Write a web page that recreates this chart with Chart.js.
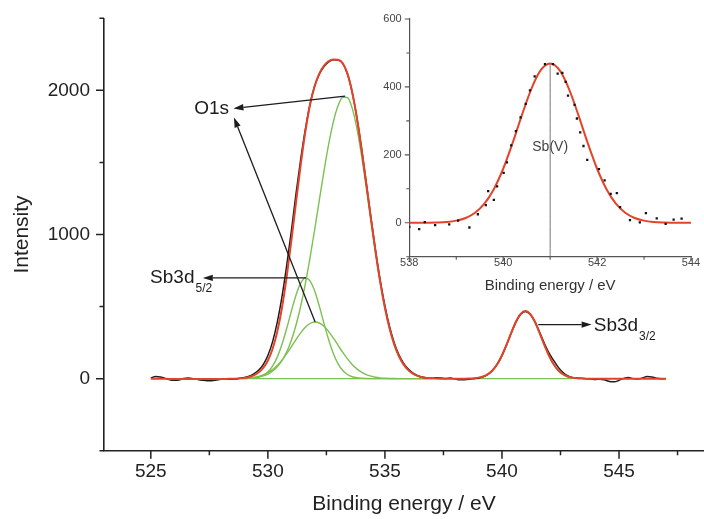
<!DOCTYPE html>
<html>
<head>
<meta charset="utf-8">
<title>XPS O1s / Sb3d</title>
<script src="https://cdn.jsdelivr.net/npm/chart.js@4.4.0/dist/chart.umd.min.js"></script>
<style>
  html, body { margin: 0; padding: 0; background: #fff; }
  #wrap { position: relative; width: 704px; height: 519px; }
  #wrap canvas { position: absolute; left: 0; top: 0; }
</style>
</head>
<body>
<div id="wrap">
  <canvas id="mainChart" width="704" height="519"></canvas>
  <canvas id="insetChart" width="704" height="519"></canvas>
</div>
<script>
// ---- main spectrum (O1s + Sb3d region) ----
const energy = [
  525.0, 525.2, 525.4, 525.6, 525.8, 526.0, 526.2, 526.4, 526.6, 526.8,
  527.0, 527.2, 527.4, 527.6, 527.8, 528.0, 528.2, 528.4, 528.6, 528.8,
  529.0, 529.2, 529.4, 529.6, 529.8, 530.0, 530.2, 530.4, 530.6, 530.8,
  531.0, 531.2, 531.4, 531.6, 531.8, 532.0, 532.2, 532.4, 532.6, 532.8,
  533.0, 533.2, 533.4, 533.6, 533.8, 534.0, 534.2, 534.4, 534.6, 534.8,
  535.0, 535.2, 535.4, 535.6, 535.8, 536.0, 536.2, 536.4, 536.6, 536.8,
  537.0, 537.2, 537.4, 537.6, 537.8, 538.0, 538.2, 538.4, 538.6, 538.8,
  539.0, 539.2, 539.4, 539.6, 539.8, 540.0, 540.2, 540.4, 540.6, 540.8,
  541.0, 541.2, 541.4, 541.6, 541.8, 542.0, 542.2, 542.4, 542.6, 542.8,
  543.0, 543.2, 543.4, 543.6, 543.8, 544.0, 544.2, 544.4, 544.6, 544.8,
  545.0, 545.2, 545.4, 545.6, 545.8, 546.0, 546.2, 546.4, 546.6, 546.8,
  547.0
];
// raw counts (black)
const measured = [
  5, 14, 12, 2, -8, -12, -9, 1, 4, 0,
  -6, -11, -14, -14, -9, -4, -3, -5, -4, 2,
  8, 17, 33, 58, 97, 160, 255, 390, 565, 780,
  1020, 1280, 1520, 1730, 1905, 2030, 2112, 2165, 2198, 2212,
  2210, 2185, 2113, 1988, 1812, 1600, 1362, 1120, 890, 682,
  505, 360, 248, 165, 106, 66, 38, 20, 9, 4,
  2, 6, 4, 1, 4, -3, -8, -7, -4, 0,
  4, 12, 30, 58, 100, 160, 236, 318, 392, 446,
  466, 447, 398, 325, 248, 180, 128, 80, 44, 20,
  8, 4, 2, 0, -2, -6, -4, -10, -20, -22,
  -12, 2, 8, 0, -3, 5, 14, 12, 3, 0,
  0
];
// fitted envelope (red)
const envelope = [
  0, 0, 0, -1, -2, -2, -2, -2, -2, -3,
  -3, -3, -3, -3, -3, -2, -2, -1, 0, 2,
  5, 11, 22, 42, 74, 126, 206, 325, 490, 703,
  952, 1220, 1480, 1712, 1898, 2030, 2118, 2172, 2203, 2214,
  2212, 2188, 2116, 1989, 1812, 1596, 1357, 1113, 880, 670,
  492, 347, 236, 155, 97, 59, 34, 19, 10, 5,
  3, 1, 0, 0, 0, 0, 0, 0, 1, 3,
  7, 15, 31, 58, 101, 162, 237, 320, 396, 449,
  469, 449, 396, 320, 237, 162, 101, 58, 31, 15,
  7, 3, 1, 0, 0, 0, 0, 0, 0, 0,
  0, 0, 0, 0, 0, 0, 0, 0, 0, 0,
  0
];

// fitted components (green)
const fitEnergy = [
  529.0, 529.2, 529.4, 529.6, 529.8, 530.0, 530.2, 530.4, 530.6, 530.8,
  531.0, 531.2, 531.4, 531.6, 531.8, 532.0, 532.2, 532.4, 532.6, 532.8,
  533.0, 533.2, 533.4, 533.6, 533.8, 534.0, 534.2, 534.4, 534.6, 534.8,
  535.0, 535.2, 535.4, 535.6, 535.8, 536.0, 536.2, 536.4, 536.6, 536.8,
  537.0
];
const o1sMain = [
  1.8, 3.4, 6.2, 11.1, 19.1, 31.9, 51.8, 81.5, 124.6, 184.5,
  265.3, 370.0, 500.6, 657.4, 837.1, 1034.7, 1240.5, 1443.0, 1628.6, 1783.2,
  1894.5, 1952.6, 1950.6, 1877.1, 1738.1, 1548.8, 1328.1, 1095.8, 870.0, 664.6,
  488.8, 345.7, 235.4, 154.2, 97.2, 59.0, 34.4, 19.3, 10.5, 5.4,
  2.7
];
const o1sMinor = [
  2.5, 4.8, 8.8, 15.3, 25.6, 41.0, 62.7, 91.8, 128.6, 172.3,
  220.8, 270.8, 317.6, 356.4, 382.6, 393.0, 386.0, 362.8, 326.2, 280.5,
  230.9, 181.7, 136.8, 98.6, 67.9, 44.8, 28.3, 17.0, 9.8, 5.4,
  2.9, 1.4, 0.7, 0.3, 0.1, 0, 0, 0, 0, 0,
  0
];
const sb3d52 = [
  0.6, 1.7, 4.4, 10.4, 22.9, 46.5, 86.8, 149.3, 236.8, 346.0,
  466.2, 578.8, 662.2, 698.4, 678.7, 607.8, 501.7, 381.6, 267.6, 172.9,
  103.0, 56.5, 28.6, 13.3, 5.7, 2.3, 0.8, 0.2, 0, 0,
  0, 0, 0, 0, 0, 0, 0, 0, 0, 0,
  0
];
const sbEnergy = [
  539.0, 539.2, 539.4, 539.6, 539.8, 540.0, 540.2, 540.4, 540.6, 540.8,
  541.0, 541.2, 541.4, 541.6, 541.8, 542.0, 542.2, 542.4, 542.6, 542.8,
  543.0
];
const sb3d32 = [
  6.6, 14.9, 30.7, 58.1, 101.1, 161.6, 237.1, 319.6, 395.5, 449.4,
  469, 449.4, 395.5, 319.6, 237.1, 161.6, 101.1, 58.1, 30.7, 14.9,
  6.6
];
const baselineEnergy = [528.8, 543.0];
const baseline = [0, 0];

const mainXTicks = [525, 527.5, 530, 532.5, 535, 537.5, 540, 542.5, 545, 547.5];
const mainYTicks = [-500, 0, 500, 1000, 1500, 2000, 2500];

// ---- inset: Sb3d3/2 detail ----
const insetEnergy = [
  538.0, 538.2, 538.4, 538.6, 538.8, 539.0, 539.2, 539.4, 539.6, 539.8,
  540.0, 540.2, 540.4, 540.6, 540.8, 541.0, 541.2, 541.4, 541.6, 541.8,
  542.0, 542.2, 542.4, 542.6, 542.8, 543.0, 543.2, 543.4, 543.6, 543.8,
  544.0
];
const insetFit = [
  0, 0.1, 0.3, 0.9, 2.5, 6.2, 14.1, 29.5, 56.3, 98.9,
  159.0, 234.7, 317.8, 394.5, 449.2, 469, 449.2, 394.5, 317.8, 234.7,
  159.0, 98.9, 56.3, 29.5, 14.1, 6.2, 2.5, 0.9, 0.3, 0.1,
  0
];
const insetPointEnergy = [
  538.0, 538.21, 538.33, 538.55, 538.85, 539.04, 539.28, 539.46, 539.63, 539.68,
  539.8, 539.87, 540.01, 540.08, 540.17, 540.27, 540.37, 540.48, 540.57, 540.67,
  540.89, 541.06, 541.16, 541.26, 541.33, 541.38, 541.52, 541.57, 541.64, 541.71,
  541.79, 542.04, 542.16, 542.29, 542.42, 542.49, 542.7, 542.91, 543.04, 543.27,
  543.46, 543.63, 543.8
];
const insetPointCounts = [
  -12, -19, 2, -7, -5, 6, -14, 25, 52, 93,
  67, 107, 147, 178, 228, 270, 310, 350, 390, 431,
  467, 467, 439, 441, 415, 374, 347, 307, 266, 226,
  185, 158, 125, 85, 87, 46, 8, 1, 28, 13,
  -3, 9, 12
];
const sbVLine = [541.0, 541.0];
const sbVLineCounts = [-100, 469];
const insetXTicks = [538, 539, 540, 541, 542, 543, 544];
const insetYTicks = [-100, 0, 100, 200, 300, 400, 500, 600];

// annotation anchors (data coordinates)
const arrows = [
  { from: [533.3, 1960], to: [528.53, 1875] },
  { from: [532.02, 393], to: [528.55, 1812] },
  { from: [531.63, 699], to: [527.22, 699] },
  { from: [541.55, 375], to: [543.83, 375] }
];
const notes = [
  { text: 'O1s', at: [526.85, 1875] },
  { text: 'Sb3d', sub: '5/2', at: [524.97, 697] },
  { text: 'Sb3d', sub: '3/2', at: [543.92, 370] }
];

const FONT = '"Liberation Sans", Arial, Helvetica, sans-serif';
Chart.defaults.font.family = FONT;

const RED = '#e4432b';
const BLACK = '#1c1c1c';
const GREEN = '#7cc150';

function pairs(xs, ys) {
  return xs.map((x, i) => ({ x: x, y: ys[i] }));
}

function lineSet(label, xs, ys, color, width) {
  return {
    label: label,
    data: pairs(xs, ys),
    showLine: true,
    borderColor: color,
    borderWidth: width,
    pointRadius: 0,
    fill: false,
    cubicInterpolationMode: 'monotone'
  };
}

// the axes own the layout exactly, so drop the label overhang padding
function fixWidth(w) {
  return s => {
    s.width = w;
    s.paddingTop = 0; s.paddingBottom = 0; s.paddingLeft = 0; s.paddingRight = 0;
  };
}
function fixHeight(h) {
  return s => {
    s.height = h;
    s.paddingTop = 0; s.paddingBottom = 0; s.paddingLeft = 0; s.paddingRight = 0;
  };
}

function tickMarks(id, spec) {
  return {
    id: id,
    afterDraw(chart) {
      const ctx = chart.ctx;
      const xs = chart.scales.x, ys = chart.scales.y;
      const area = chart.chartArea;
      ctx.save();
      ctx.strokeStyle = spec.color;
      ctx.lineWidth = spec.width;
      ctx.beginPath();
      xs.ticks.forEach(t => {
        const px = xs.getPixelForValue(t.value);
        const len = spec.majorX(t.value) ? spec.major : spec.minor;
        ctx.moveTo(px, area.bottom);
        ctx.lineTo(px, area.bottom + len);
      });
      ys.ticks.forEach(t => {
        const py = ys.getPixelForValue(t.value);
        const len = spec.majorY(t.value) ? spec.major : spec.minor;
        ctx.moveTo(area.left, py);
        ctx.lineTo(area.left - len, py);
      });
      ctx.stroke();
      ctx.restore();
    }
  };
}

const mainNotes = {
  id: 'mainNotes',
  afterDraw(chart) {
    const ctx = chart.ctx, xs = chart.scales.x, ys = chart.scales.y;
    const px = p => [xs.getPixelForValue(p[0]), ys.getPixelForValue(p[1])];
    ctx.save();
    ctx.strokeStyle = BLACK;
    ctx.fillStyle = BLACK;
    ctx.lineWidth = 1.3;
    arrows.forEach(a => {
      const [x0, y0] = px(a.from);
      const [x1, y1] = px(a.to);
      const ang = Math.atan2(y1 - y0, x1 - x0);
      const head = 10, half = 3.2;
      const bx = x1 - head * Math.cos(ang), by = y1 - head * Math.sin(ang);
      ctx.beginPath();
      ctx.moveTo(x0, y0);
      ctx.lineTo(bx, by);
      ctx.stroke();
      ctx.beginPath();
      ctx.moveTo(x1, y1);
      ctx.lineTo(bx + half * Math.sin(ang), by - half * Math.cos(ang));
      ctx.lineTo(bx - half * Math.sin(ang), by + half * Math.cos(ang));
      ctx.closePath();
      ctx.fill();
    });
    ctx.textBaseline = 'middle';
    ctx.textAlign = 'left';
    notes.forEach(n => {
      const [x, y] = px(n.at);
      ctx.font = '19px ' + FONT;
      ctx.fillText(n.text, x, y);
      if (n.sub) {
        const w = ctx.measureText(n.text).width;
        ctx.font = '12px ' + FONT;
        ctx.fillText(n.sub, x + w + 1, y + 11);
      }
    });
    ctx.restore();
  }
};

const insetNotes = {
  id: 'insetNotes',
  afterDraw(chart) {
    const ctx = chart.ctx;
    const x = chart.scales.x.getPixelForValue(541.0);
    const y = chart.scales.y.getPixelForValue(224);
    ctx.save();
    ctx.font = '14px ' + FONT;
    ctx.fillStyle = '#444';
    ctx.textAlign = 'center';
    ctx.textBaseline = 'middle';
    ctx.fillText('Sb(V)', x, y);
    ctx.restore();
  }
};

new Chart(document.getElementById('mainChart'), {
  type: 'scatter',
  data: {
    datasets: [
      lineSet('Fit', energy, envelope, RED, 2),
      lineSet('Measured', energy, measured, BLACK, 1.5),
      lineSet('O1s', fitEnergy, o1sMain, GREEN, 1.4),
      lineSet('O1s (2)', fitEnergy, o1sMinor, GREEN, 1.4),
      lineSet('Sb3d5/2', fitEnergy, sb3d52, GREEN, 1.4),
      lineSet('Sb3d3/2', sbEnergy, sb3d32, GREEN, 1.4),
      lineSet('Baseline', baselineEnergy, baseline, GREEN, 1.4)
    ]
  },
  options: {
    responsive: false,
    animation: false,
    devicePixelRatio: 1,
    layout: { padding: { top: 18.3, right: 0, bottom: 0, left: 0 } },
    plugins: { legend: { display: false }, tooltip: { enabled: false } },
    scales: {
      x: {
        type: 'linear',
        min: 523,
        max: 548.63,
        afterBuildTicks: s => { s.ticks = mainXTicks.map(v => ({ value: v })); },
        afterFit: fixHeight(68.3),
        grid: { display: false, drawTicks: false },
        border: { display: true, color: '#222', width: 1.6 },
        ticks: {
          padding: 10, color: '#222', autoSkip: false, maxRotation: 0,
          font: { size: 19 },
          callback: v => (v % 5 === 0 ? String(v) : '')
        },
        title: {
          display: true, text: 'Binding energy / eV', color: '#222',
          font: { size: 21 }, padding: { top: 0, bottom: 2 }
        }
      },
      y: {
        type: 'linear',
        min: -500,
        max: 2500,
        afterBuildTicks: s => { s.ticks = mainYTicks.map(v => ({ value: v })); },
        afterFit: fixWidth(104),
        grid: { display: false, drawTicks: false },
        border: { display: true, color: '#222', width: 1.6 },
        ticks: {
          padding: 14, color: '#222', autoSkip: false,
          font: { size: 19 },
          callback: v => (v % 1000 === 0 ? String(v) : '')
        },
        title: {
          display: true, text: 'Intensity', color: '#222',
          font: { size: 21 }, padding: { top: 10, bottom: 0 }
        }
      }
    }
  },
  plugins: [
    tickMarks('mainTicks', {
      color: '#222', width: 1.5, major: 8, minor: 4.5,
      majorX: v => v % 5 === 0, majorY: v => v % 1000 === 0
    }),
    mainNotes
  ]
});

new Chart(document.getElementById('insetChart'), {
  type: 'scatter',
  data: {
    datasets: [
      {
        label: 'Data',
        data: pairs(insetPointEnergy, insetPointCounts),
        pointStyle: 'rect',
        pointRadius: 1.6,
        pointBorderWidth: 0,
        backgroundColor: '#111',
        borderColor: '#111',
        showLine: false
      },
      lineSet('Fit', insetEnergy, insetFit, RED, 2),
      lineSet('Sb(V)', sbVLine, sbVLineCounts, '#777', 1)
    ]
  },
  options: {
    responsive: false,
    animation: false,
    devicePixelRatio: 1,
    layout: { padding: { top: 19, right: 13, bottom: 222.3, left: 360 } },
    plugins: { legend: { display: false }, tooltip: { enabled: false } },
    scales: {
      x: {
        type: 'linear',
        min: 538,
        max: 544,
        afterBuildTicks: s => { s.ticks = insetXTicks.map(v => ({ value: v })); },
        afterFit: fixHeight(40),
        grid: { display: false, drawTicks: false },
        border: { display: true, color: '#555', width: 1.2 },
        ticks: {
          padding: 0, color: '#444', autoSkip: false, maxRotation: 0,
          font: { size: 11 },
          callback: v => (v % 2 === 0 ? String(v) : '')
        },
        title: {
          display: true, text: 'Binding energy / eV', color: '#333',
          font: { size: 15 }, padding: { top: 0, bottom: 1.5 }
        }
      },
      y: {
        type: 'linear',
        min: -100,
        max: 600,
        afterBuildTicks: s => { s.ticks = insetYTicks.map(v => ({ value: v })); },
        afterFit: fixWidth(49.3),
        grid: { display: false, drawTicks: false },
        border: { display: true, color: '#555', width: 1.2 },
        ticks: {
          padding: 7.6, color: '#444', autoSkip: false,
          font: { size: 11 },
          callback: v => (v % 200 === 0 && v >= 0 ? String(v) : '')
        }
      }
    }
  },
  plugins: [
    tickMarks('insetTicks', {
      color: '#555', width: 1.1, major: 4.5, minor: 3,
      majorX: v => v % 2 === 0, majorY: v => v % 200 === 0
    }),
    insetNotes
  ]
});
</script>
</body>
</html>
